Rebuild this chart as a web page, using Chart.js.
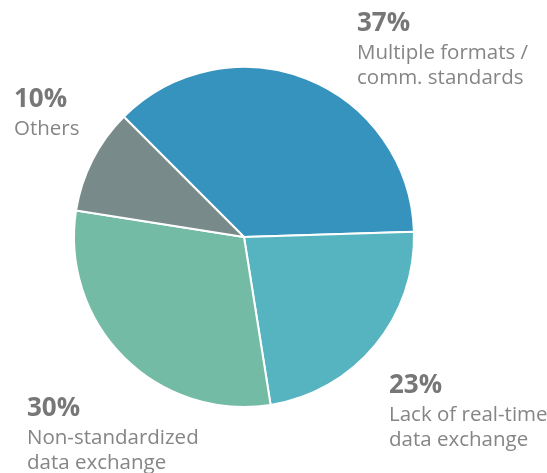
<!DOCTYPE html>
<html>
<head>
<meta charset="utf-8">
<script src="https://cdn.jsdelivr.net/npm/chart.js@4.4.1/dist/chart.umd.min.js"></script>
<style>
  html, body { margin: 0; padding: 0; background: #fff; }
  #wrap { width: 547px; height: 473px; position: relative; }
</style>
</head>
<body>
<div id="wrap"><canvas id="pieChart"></canvas></div>
<script>
const categories = [
    ['Multiple formats /', 'comm. standards'],
    ['Lack of real-time', 'data exchange'],
    ['Non-standardized', 'data exchange'],
    ['Others']
];
const shares = [37, 23, 30, 10];
const sliceColors = ['#3593be', '#56b4c0', '#74bba6', '#798a8a'];

// baseline of the percentage line for each label block
const labelSpots = [
    { x: 357, y: 31 },
    { x: 389, y: 393 },
    { x: 27, y: 416 },
    { x: 14, y: 107 }
];

const outsideLabels = {
    id: 'outsideLabels',
    afterDraw(chart) {
        const ctx = chart.ctx;
        ctx.save();
        ctx.textBaseline = 'alphabetic';
        ctx.textAlign = 'left';
        shares.forEach((v, i) => {
            const spot = labelSpots[i];
            ctx.fillStyle = '#777777';
            ctx.font = 'bold 26px "Open Sans", sans-serif';
            ctx.fillText(v + '%', spot.x, spot.y);
            ctx.fillStyle = '#858585';
            ctx.font = '20.5px "Open Sans", sans-serif';
            categories[i].forEach((line, j) => {
                ctx.fillText(line, spot.x, spot.y + 28 + j * 24.5);
            });
        });
        ctx.restore();
    }
};

const ctx = document.getElementById('pieChart').getContext('2d');
new Chart(ctx, {
    type: 'pie',
    data: {
        labels: categories.map(c => c.join(' ')),
        datasets: [{
            data: shares,
            backgroundColor: sliceColors,
            borderColor: '#ffffff',
            borderWidth: 2,
            hoverOffset: 0
        }]
    },
    options: {
        responsive: true,
        maintainAspectRatio: false,
        animation: false,
        rotation: -45,
        layout: {
            padding: { left: 73, right: 132, top: 66, bottom: 65 }
        },
        plugins: {
            legend: { display: false },
            tooltip: { enabled: false }
        }
    },
    plugins: [outsideLabels]
});
</script>
</body>
</html>
